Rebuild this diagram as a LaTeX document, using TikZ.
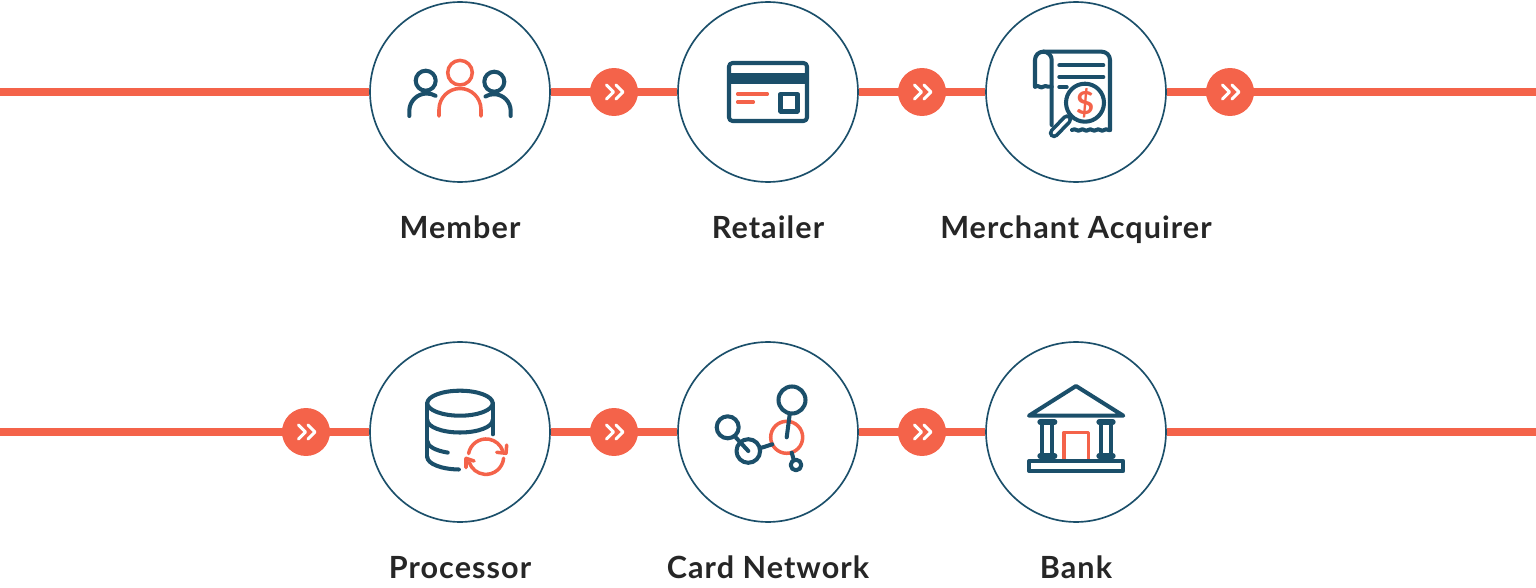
\documentclass[tikz,border=0pt]{standalone}
\usepackage{fontspec}
\setmainfont{Lato}[LetterSpace=3.5]
\usetikzlibrary{positioning,decorations.pathmorphing}
\definecolor{coral}{HTML}{F4634A}
\definecolor{navy}{HTML}{1B4F6A}
\tikzset{
  station/.style={circle, draw=navy, line width=0.95pt, minimum size=3.6cm, inner sep=0pt},
  caption/.style={font=\bfseries\fontsize{17.4}{20}\selectfont, text=black!85, inner sep=0pt, text height=15pt, text depth=4pt},
  flow/.style={coral, line width=4.54pt},
  badge/.style={circle, fill=coral, minimum size=0.96cm, inner sep=0pt},
  ink/.style={navy, line width=2.3pt, line cap=round, line join=round},
  accent/.style={coral, line width=2pt, line cap=round, line join=round},
  pics/chevrons/.style={code={
    \draw[white, line width=1.7pt, line cap=round, line join=round] (-7.5,-7) -- (-0.5,0) -- (-7.5,7);
    \draw[white, line width=1.7pt, line cap=round, line join=round] (2,-7) -- (9,0) -- (2,7);
  }}
}
\begin{document}
\begin{tikzpicture}[x=0.02cm, y=-0.02cm]
  \useasboundingbox (0,0) rectangle (1536,588);

  % Stationen
  \node[station] (member) at (460,92) {};
  \node[station] (retailer) at (768,92) {};
  \node[station] (acquirer) at (1076,92) {};
  \node[station] (processor) at (460,432) {};
  \node[station] (network) at (768,432) {};
  \node[station] (bank) at (1076,432) {};

  % Beschriftungen
  \node[caption, below=0.58cm of member] (memberlabel) {Member};
  \node[caption, below=0.58cm of retailer] (retailerlabel) {Retailer};
  \node[caption, below=0.58cm of acquirer] (acquirerlabel) {Merchant Acquirer};
  \node[caption, below=0.58cm of processor] (processorlabel) {Processor};
  \node[caption, below=0.58cm of network] (networklabel) {Card Network};
  \node[caption, below=0.58cm of bank] (banklabel) {Bank};

  % Linien
  \coordinate (startA) at (0,92);
  \coordinate (endA) at (1536,92);
  \coordinate (startB) at (0,432);
  \coordinate (endB) at (1536,432);
  \draw[flow] (startA) -- (member);
  \draw[flow] (member) -- (retailer);
  \draw[flow] (retailer) -- (acquirer);
  \draw[flow] (acquirer) -- (endA);
  \draw[flow] (startB) -- (processor);
  \draw[flow] (processor) -- (network);
  \draw[flow] (network) -- (bank);
  \draw[flow] (bank) -- (endB);

  % Pfeilkreise
  \foreach \name/\px/\py in {ba/614/92, bb/922/92, bc/1230/92, bd/306/432, be/614/432, bf/922/432} {
    \node[badge] (\name) at (\px,\py) {};
    \pic at (\name) {chevrons};
  }

  % Personen
  \draw[ink] (425.7,80.7) circle (10);
  \draw[ink] (494.3,81.7) circle (10);
  \draw[ink] (409.3,116) -- (409.3,111) arc[start angle=180, end angle=300, radius=17.5];
  \draw[ink] (510.7,116) -- (510.7,111) arc[start angle=0, end angle=-120, radius=16.8];
  \draw[accent] (460,72.7) circle (12.3);
  \draw[accent] (439,116) -- (439,109.5) arc[start angle=180, end angle=360, radius=21] -- (481,116);

  % Karte
  \draw[ink, rounded corners=2pt] (729,63) rectangle (807,121);
  \fill[navy] (729,73.3) rectangle (807,84.3);
  \draw[ink] (780.5,94) rectangle (797.5,111.5);
  \draw[accent] (737.7,94) -- (767.3,94);
  \draw[accent] (737.7,102) -- (753.3,102);

  % Beleg
  \draw[ink, rounded corners=4.7pt] (1035,86.7) -- (1035,51.7) -- (1051.7,51.7) -- (1051.7,125);
  \draw[ink, rounded corners=4.7pt] (1043.3,51.7) -- (1110,51.7) -- (1110,130);
  \draw[ink, decorate, decoration={snake, segment length=4.5pt, amplitude=0.4pt}] (1035,86.7) -- (1051.7,86.7);
  \draw[ink, decorate, decoration={snake, segment length=4.5pt, amplitude=0.4pt}] (1072,130) -- (1110,130);
  \draw[ink] (1059.3,65.3) -- (1103.3,65.3);
  \draw[ink] (1059.3,77) -- (1103.3,77);
  \draw[ink] (1059.3,87) -- (1066.7,87);
  \draw[navy, line width=6pt, line cap=round] (1067,119.5) -- (1054,133);
  \draw[white, line width=1.8pt, line cap=round] (1067,119.5) -- (1054,133);
  \draw[ink, fill=white] (1085,102.7) circle (19);
  \node[coral, font=\bfseries\fontsize{18}{20}\selectfont, inner sep=0pt] (dollar) at (1085,103) {\$};

  % Datenbank
  \draw[ink] (460,403.2) ellipse (32.7 and 12.5);
  \draw[ink] (427.3,403.2) -- (427.3,457);
  \draw[ink] (492.7,403.2) -- (492.7,434.3);
  \draw[ink] (427.3,420) arc[start angle=180, end angle=0, x radius=32.7, y radius=12.5];
  \draw[ink] (427.3,441) arc[start angle=180, end angle=112, x radius=32.7, y radius=12.5];
  \draw[ink] (427.3,457) arc[start angle=180, end angle=92, x radius=32.7, y radius=12.5];
  \draw[accent] (468.6,453.6) arc[start angle=190, end angle=341, radius=17.7];
  \draw[accent] (503.6,458.2) arc[start angle=5, end angle=161, radius=17.7];
  \draw[accent] (496.7,452.3) -- (506,453.3) -- (506.7,445);
  \draw[accent] (474,461) -- (466,458.3) -- (466,467.7);

  % Netzwerk
  \draw[accent] (786.7,437.3) circle (16);
  \draw[ink] (792,400) circle (13.5);
  \draw[ink] (727.7,427.3) circle (11);
  \draw[ink] (748.3,451) circle (11.8);
  \draw[ink] (796,465) circle (5.3);
  \draw[ink] (789.7,414.3) -- (786.7,437.3);
  \draw[ink] (736,437.7) -- (748.3,451);
  \draw[ink] (761.7,447.7) -- (772.3,444.3);
  \draw[ink] (791.7,452.7) -- (793.3,458.3);

  % Bank
  \draw[ink] (1029,415.7) -- (1076,386) -- (1123.3,415.7) -- cycle;
  \draw[accent] (1064,459) -- (1064,432.3) -- (1088.3,432.3) -- (1088.3,459);
  \draw[ink] (1042.3,421) -- (1042.3,456);
  \draw[ink] (1052.3,421) -- (1052.3,456);
  \draw[ink] (1101,421) -- (1101,456);
  \draw[ink] (1111,421) -- (1111,456);
  \draw[ink, line width=3pt] (1040,422) -- (1054.7,422);
  \draw[ink, line width=3pt] (1099,422) -- (1113,422);
  \draw[ink, line width=3pt] (1040,456) -- (1054.7,456);
  \draw[ink, line width=3pt] (1099,456) -- (1113,456);
  \draw[ink] (1029.3,461) rectangle (1123.3,471);
\end{tikzpicture}
\end{document}
